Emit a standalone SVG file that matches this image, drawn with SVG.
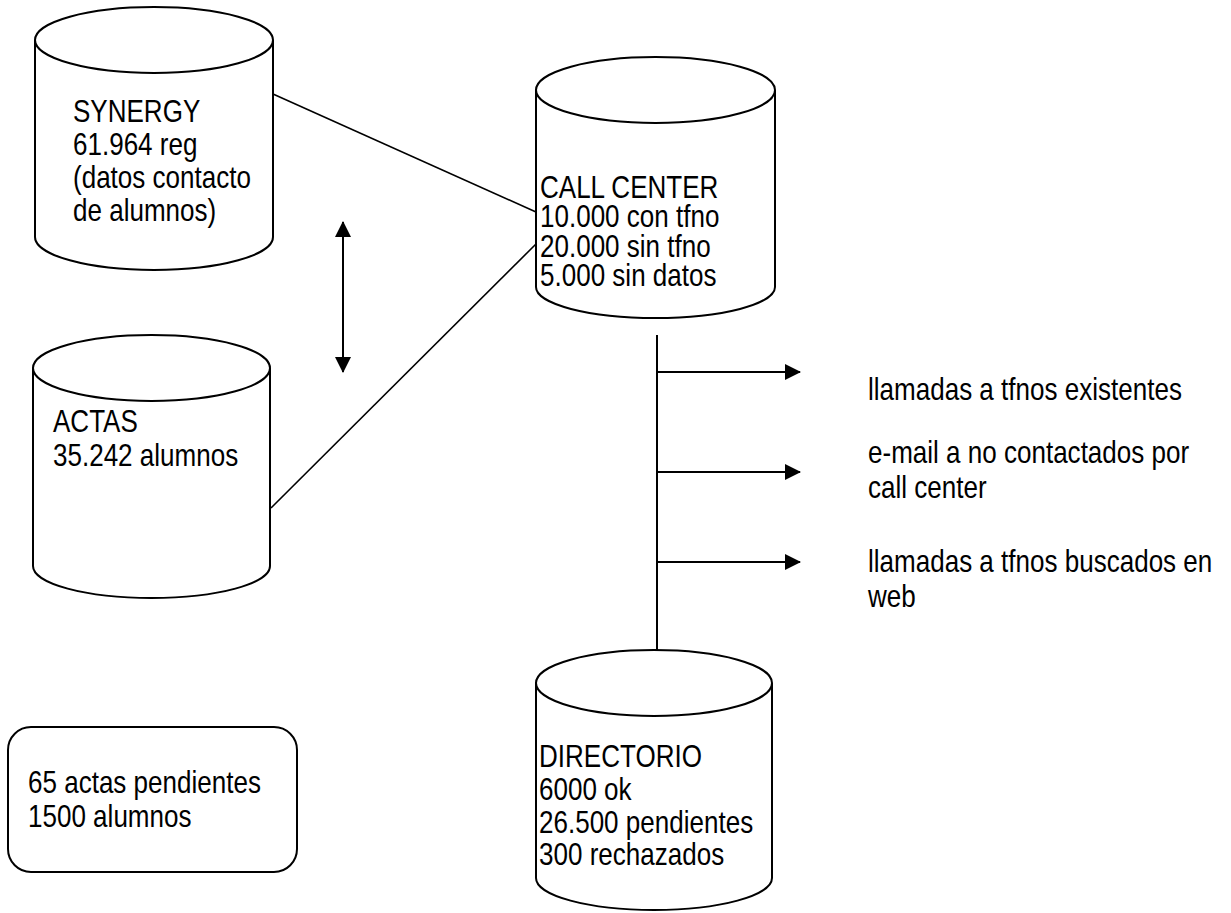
<svg xmlns="http://www.w3.org/2000/svg" width="1231" height="913" viewBox="0 0 1231 913">
<defs>
<style>
.cyl{fill:#fff;stroke:#000;stroke-width:2}
.t{font-family:"Liberation Sans",Arial,sans-serif;font-size:31px;fill:#000}
.ln{stroke:#000;stroke-width:1.6;fill:none}
.ar{stroke:#000;stroke-width:2;fill:none}
</style>
<marker id="ah" viewBox="0 0 16 16" refX="15" refY="8" markerWidth="16" markerHeight="16" markerUnits="userSpaceOnUse" orient="auto-start-reverse">
<path d="M0,0 L16,8 L0,16 Z" fill="#000"/>
</marker>
</defs>
<rect width="1231" height="913" fill="#fff"/>
<g id="connectors">
<line class="ln" x1="273" y1="94" x2="536" y2="212"/>
<line class="ln" x1="271" y1="508" x2="537" y2="243"/>
<line class="ar" x1="343" y1="222" x2="343" y2="372" marker-start="url(#ah)" marker-end="url(#ah)"/>
<line class="ar" x1="657" y1="335" x2="657" y2="651"/>
<line class="ar" x1="657" y1="372" x2="800" y2="372" marker-end="url(#ah)"/>
<line class="ar" x1="657" y1="472" x2="800" y2="472" marker-end="url(#ah)"/>
<line class="ar" x1="657" y1="562" x2="800" y2="562" marker-end="url(#ah)"/>
</g>
<g id="synergy">
<path class="cyl" d="M35,40 L35,237 A119,33 0 0 0 273,237 L273,40"/>
<ellipse class="cyl" cx="154" cy="40" rx="119" ry="33"/>
<text class="t" transform="translate(73,122) scale(0.84,1)">SYNERGY</text>
<text class="t" transform="translate(73,155) scale(0.84,1)">61.964 reg</text>
<text class="t" transform="translate(73,188) scale(0.84,1)">(datos contacto</text>
<text class="t" transform="translate(73,221) scale(0.84,1)">de alumnos)</text>
</g>
<g id="actas">
<path class="cyl" d="M33,368 L33,566 A118.5,32 0 0 0 270,566 L270,368"/>
<ellipse class="cyl" cx="151.5" cy="368" rx="118.5" ry="33"/>
<text class="t" transform="translate(53,432) scale(0.84,1)">ACTAS</text>
<text class="t" transform="translate(53,466) scale(0.84,1)">35.242 alumnos</text>
</g>
<g id="callcenter">
<path class="cyl" d="M536,90 L536,287 A119.5,31 0 0 0 775,287 L775,90"/>
<ellipse class="cyl" cx="655.5" cy="90" rx="119.5" ry="33"/>
<text class="t" transform="translate(540,198) scale(0.84,1)">CALL CENTER</text>
<text class="t" transform="translate(540,227) scale(0.84,1)">10.000 con tfno</text>
<text class="t" transform="translate(540,257) scale(0.84,1)">20.000 sin tfno</text>
<text class="t" transform="translate(540,286) scale(0.84,1)">5.000 sin datos</text>
</g>
<g id="directorio">
<path class="cyl" d="M536,683 L536,878 A118,32 0 0 0 772,878 L772,683"/>
<ellipse class="cyl" cx="654" cy="683" rx="118" ry="33"/>
<text class="t" transform="translate(539,767) scale(0.84,1)">DIRECTORIO</text>
<text class="t" transform="translate(539,800) scale(0.84,1)">6000 ok</text>
<text class="t" transform="translate(539,833) scale(0.84,1)">26.500 pendientes</text>
<text class="t" transform="translate(539,865) scale(0.84,1)">300 rechazados</text>
</g>
<g id="pendientes">
<rect x="8" y="727" width="289" height="145" rx="23" ry="23" fill="#fff" stroke="#000" stroke-width="2"/>
<text class="t" transform="translate(28,793) scale(0.84,1)">65 actas pendientes</text>
<text class="t" transform="translate(28,827) scale(0.84,1)">1500 alumnos</text>
</g>
<g id="labels">
<text class="t" transform="translate(868,400) scale(0.84,1)">llamadas a tfnos existentes</text>
<text class="t" transform="translate(868,463) scale(0.84,1)">e-mail a no contactados por</text>
<text class="t" transform="translate(868,498) scale(0.84,1)">call center</text>
<text class="t" transform="translate(868,572) scale(0.84,1)">llamadas a tfnos buscados en</text>
<text class="t" transform="translate(868,607) scale(0.84,1)">web</text>
</g>
</svg>
